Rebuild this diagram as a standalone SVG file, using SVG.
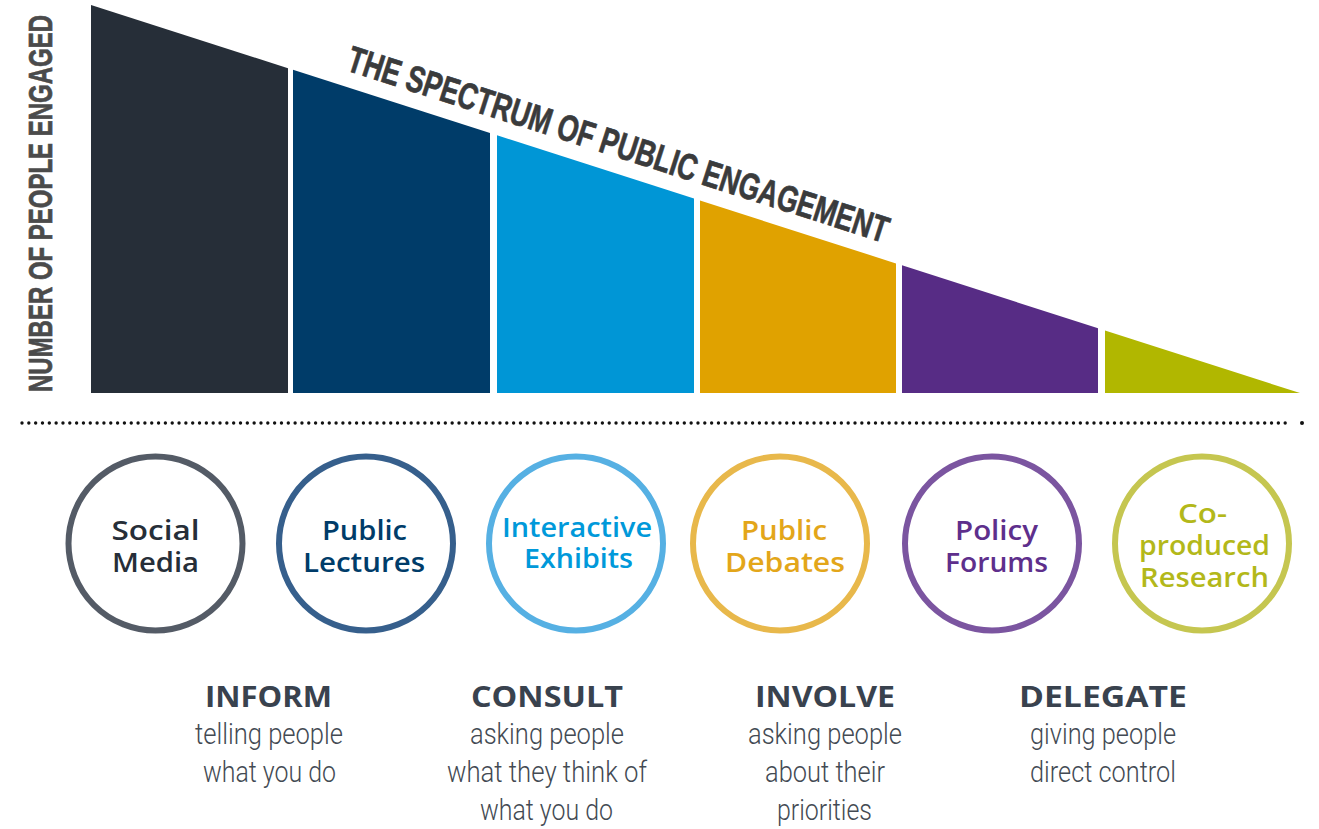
<svg xmlns="http://www.w3.org/2000/svg" width="1319" height="829" viewBox="0 0 1319 829">
<style>
.ttl{font-family:"Liberation Sans",Arial,sans-serif;font-weight:700;fill:#3a3b3c;stroke:#3a3b3c;stroke-width:0.7}
.ct{font-family:"Open Sans","Liberation Sans",sans-serif;font-weight:600;font-size:27px;text-anchor:middle}
.hd{font-family:"Open Sans","Liberation Sans",sans-serif;font-weight:700;font-size:29px;text-anchor:middle;fill:#39424e}
.sb{font-family:Roboto,"Liberation Sans",sans-serif;font-weight:300;font-size:29px;text-anchor:middle;fill:#434a53}
.ring{fill:#fff;stroke-width:6}
</style>
<g id="spectrum">
<polygon points="91,5 288,68.2 288,393 91,393" fill="#262e38"/>
<polygon points="293,69.8 490,133.1 490,393 293,393" fill="#003c69"/>
<polygon points="497,135.3 694,198.5 694,393 497,393" fill="#0096d6"/>
<polygon points="700,200.5 896,263.4 896,393 700,393" fill="#e0a200"/>
<polygon points="902,265.3 1098,328.2 1098,393 902,393" fill="#572c85"/>
<polygon points="1105,330.5 1300,393 1105,393" fill="#b1b700"/>
</g>
<g id="title">
<text class="ttl" font-size="37" transform="translate(345,70) rotate(17.79)" textLength="566" lengthAdjust="spacingAndGlyphs">THE SPECTRUM OF PUBLIC ENGAGEMENT</text>
</g>
<g id="axis-label">
<text class="ttl" font-size="33" transform="translate(52,392) rotate(-90)" textLength="377" lengthAdjust="spacingAndGlyphs" style="fill:#4b4b4b;stroke:#4b4b4b">NUMBER OF PEOPLE ENGAGED</text>
</g>
<g id="divider">
<line x1="22" y1="423" x2="1292" y2="423" stroke="#111" stroke-width="3.4" stroke-linecap="round" stroke-dasharray="0 6.828"/>
<circle cx="1302" cy="423" r="2" fill="#111"/>
</g>
<g id="social-media">
<circle class="ring" cx="155.5" cy="543.5" r="87" stroke="#545b66"/>
<text class="ct" fill="#262e38" x="155.5" y="540" textLength="88" lengthAdjust="spacingAndGlyphs">Social</text>
<text class="ct" fill="#262e38" x="155.5" y="572" textLength="87" lengthAdjust="spacingAndGlyphs">Media</text>
</g>
<g id="public-lectures">
<circle class="ring" cx="366" cy="543.5" r="87" stroke="#365f8c"/>
<text class="ct" fill="#003c69" x="364.5" y="540" textLength="85" lengthAdjust="spacingAndGlyphs">Public</text>
<text class="ct" fill="#003c69" x="364" y="572" textLength="122" lengthAdjust="spacingAndGlyphs">Lectures</text>
</g>
<g id="interactive-exhibits">
<circle class="ring" cx="576" cy="543.5" r="87" stroke="#56b0e3"/>
<text class="ct" fill="#0099da" x="577" y="537" textLength="150" lengthAdjust="spacingAndGlyphs">Interactive</text>
<text class="ct" fill="#0099da" x="578.5" y="568" textLength="109" lengthAdjust="spacingAndGlyphs">Exhibits</text>
</g>
<g id="public-debates">
<circle class="ring" cx="780" cy="543.5" r="87" stroke="#e8b84b"/>
<text class="ct" fill="#e3a61a" x="784" y="540" textLength="86" lengthAdjust="spacingAndGlyphs">Public</text>
<text class="ct" fill="#e3a61a" x="785" y="572" textLength="120" lengthAdjust="spacingAndGlyphs">Debates</text>
</g>
<g id="policy-forums">
<circle class="ring" cx="992" cy="543.5" r="87" stroke="#7b55a0"/>
<text class="ct" fill="#5e2f8c" x="996.5" y="540" textLength="83" lengthAdjust="spacingAndGlyphs">Policy</text>
<text class="ct" fill="#5e2f8c" x="996.5" y="572" textLength="103" lengthAdjust="spacingAndGlyphs">Forums</text>
</g>
<g id="co-produced-research">
<circle class="ring" cx="1202" cy="543.5" r="87" stroke="#c5c650"/>
<text class="ct" fill="#b3b81a" x="1202.5" y="523" textLength="49" lengthAdjust="spacingAndGlyphs">Co-</text>
<text class="ct" fill="#b3b81a" x="1204.5" y="555" textLength="131" lengthAdjust="spacingAndGlyphs">produced</text>
<text class="ct" fill="#b3b81a" x="1204.5" y="587" textLength="129" lengthAdjust="spacingAndGlyphs">Research</text>
</g>
<g id="inform">
<text class="hd" x="268.5" y="707" textLength="127" lengthAdjust="spacingAndGlyphs">INFORM</text>
<text class="sb" x="269" y="744" textLength="148" lengthAdjust="spacingAndGlyphs">telling people</text>
<text class="sb" x="269.5" y="782" textLength="133" lengthAdjust="spacingAndGlyphs">what you do</text>
</g>
<g id="consult">
<text class="hd" x="547" y="707" textLength="152" lengthAdjust="spacingAndGlyphs">CONSULT</text>
<text class="sb" x="547" y="744" textLength="154" lengthAdjust="spacingAndGlyphs">asking people</text>
<text class="sb" x="547" y="782" textLength="200" lengthAdjust="spacingAndGlyphs">what they think of</text>
<text class="sb" x="546.5" y="820" textLength="133" lengthAdjust="spacingAndGlyphs">what you do</text>
</g>
<g id="involve">
<text class="hd" x="825" y="707" textLength="140" lengthAdjust="spacingAndGlyphs">INVOLVE</text>
<text class="sb" x="825" y="744" textLength="154" lengthAdjust="spacingAndGlyphs">asking people</text>
<text class="sb" x="825" y="782" textLength="120" lengthAdjust="spacingAndGlyphs">about their</text>
<text class="sb" x="824.5" y="820" textLength="95" lengthAdjust="spacingAndGlyphs">priorities</text>
</g>
<g id="delegate">
<text class="hd" x="1103" y="707" textLength="168" lengthAdjust="spacingAndGlyphs">DELEGATE</text>
<text class="sb" x="1103" y="744" textLength="146" lengthAdjust="spacingAndGlyphs">giving people</text>
<text class="sb" x="1103" y="782" textLength="146" lengthAdjust="spacingAndGlyphs">direct control</text>
</g>
</svg>
